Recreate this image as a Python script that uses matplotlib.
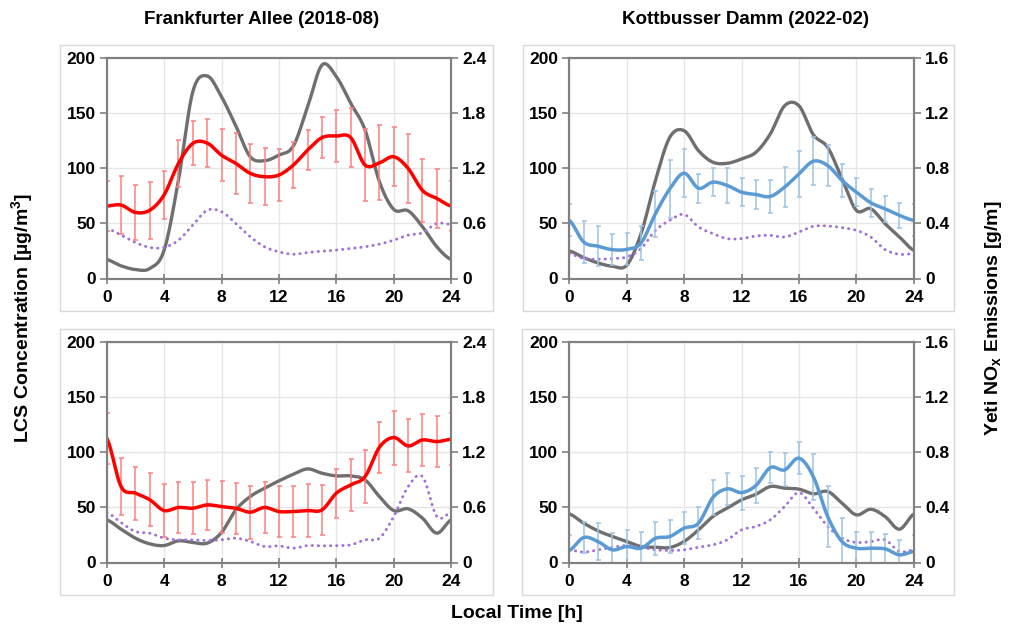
import numpy as np
import matplotlib
matplotlib.use("Agg")
import matplotlib.pyplot as plt
from matplotlib.patches import Rectangle

plt.rcParams['font.family'] = ['Liberation Sans', 'DejaVu Sans']
plt.rcParams['font.weight'] = 'bold'
plt.rcParams['mathtext.fontset'] = 'custom'
plt.rcParams['mathtext.bf'] = 'Liberation Sans:bold'
plt.rcParams['mathtext.rm'] = 'Liberation Sans:bold'
plt.rcParams['mathtext.default'] = 'bf'

hours = np.arange(0, 25)

# top-left: Frankfurter Allee
tl_lcs = [65.8, 66.7, 60, 62, 76, 104.5, 122.7, 123, 112, 104.5, 95.5, 92.4, 94,
          103, 116.7, 128, 129.4, 128, 103, 105, 110.6, 100, 80, 72.7, 65.8]
tl_err = [23, 26, 25, 26, 22, 21, 20, 22, 23.5, 28, 27, 26, 24,
          21, 18, 19, 23.5, 27, 33, 34, 27, 31, 28.5, 27, 23]
tl_yeti = [0.207, 0.138, 0.098, 0.109, 0.309, 1.073, 2.036, 2.207, 1.98, 1.662, 1.327, 1.284, 1.345,
           1.444, 1.873, 2.327, 2.2, 1.909, 1.618, 1.055, 0.753, 0.738, 0.564, 0.345, 0.207]
tl_dot = [45.5, 39.4, 32.7, 28.2, 28.2, 34.8, 48.5, 62, 60.6, 50, 37.9, 28.8, 24.2,
          22, 23.6, 24.8, 25.8, 27.3, 28.8, 31.2, 34.8, 39.4, 41.5, 50, 49]

# top-right: Kottbusser Damm
tr_lcs = [52.8, 33.2, 29.3, 26.2, 26.5, 32.3, 58.8, 81.4, 95.6, 82, 87.5, 84.5, 78.4,
          76.3, 74.5, 83, 95, 106.5, 102.6, 89, 78.4, 68.8, 63.3, 57.3, 52.8]
tr_err = [14.5, 19, 18, 14, 14.5, 15.5, 21, 26.5, 22, 13, 12.5, 16, 13,
          13, 15, 18, 21, 22, 18.5, 15.4, 12.7, 12.8, 12, 11, 14.5]
tr_yeti = [0.2, 0.152, 0.113, 0.089, 0.097, 0.326, 0.712, 1.026, 1.074, 0.929, 0.845, 0.837, 0.869,
           0.917, 1.05, 1.255, 1.255, 1.045, 0.953, 0.724, 0.495, 0.507, 0.398, 0.302, 0.205]
tr_dot = [22.6, 18.1, 17.5, 18.1, 19.6, 27.1, 43.7, 52.8, 58.2, 46.8, 40.7, 36.2, 36.2,
          38.6, 39.2, 37.7, 42.2, 47.4, 47.7, 46.2, 43.7, 37.7, 26.2, 22, 22.6]

# bottom-left: Frankfurter Allee
bl_lcs = [112.9, 69, 63, 57, 47.2, 50, 49.3, 52.3, 50.8, 49.3, 45.7, 50, 46.3,
          46.3, 47.2, 47.8, 63, 70.5, 78, 104.7, 113.5, 105.9, 111.3, 109.8, 112]
bl_err = [23, 26, 24, 24, 24, 23, 23.5, 23, 23.6, 23.3, 24, 23, 23.5,
          23.3, 24, 22.7, 22.3, 23.3, 24, 23.3, 24.5, 24, 23.7, 23.3, 23.5]
bl_yeti = [0.465, 0.363, 0.265, 0.203, 0.185, 0.236, 0.218, 0.211, 0.327, 0.574, 0.719, 0.81, 0.89,
           0.962, 1.02, 0.973, 0.944, 0.944, 0.9, 0.719, 0.566, 0.585, 0.483, 0.32, 0.465]
bl_dot = [45.4, 36.3, 28.1, 26.6, 22.1, 20.6, 20.6, 20, 20.6, 22.1, 19.1, 14.5, 15.1,
          13, 15.4, 15.1, 15.4, 16, 20.6, 22.1, 41.8, 69, 78, 41.8, 45.4]

# bottom-right: Kottbusser Damm
br_lcs = [10.9, 22.7, 19, 11.5, 14.5, 13, 22, 23.6, 31.2, 35.7, 59, 66.9, 63.5,
          69.9, 86.2, 84.1, 94.7, 78, 41.8, 19, 13, 13, 12.4, 7, 10]
br_err = [14, 14.5, 16.7, 15, 15, 15, 15, 15, 14.5, 14.3, 16, 14.8, 15.5,
          15.7, 14, 15, 14.5, 21, 28, 21, 14.5, 14.5, 13.6, 13.6, 15]
br_yeti = [0.353, 0.286, 0.23, 0.189, 0.153, 0.116, 0.111, 0.109, 0.153, 0.237, 0.334, 0.395, 0.455,
           0.496, 0.552, 0.54, 0.533, 0.499, 0.516, 0.431, 0.346, 0.387, 0.334, 0.242, 0.351]
br_dot = [11.5, 9.4, 11.5, 13.9, 15.4, 13.9, 11.5, 10.9, 11.5, 13.9, 16, 20.6, 29.7,
          32.7, 38.7, 50.8, 63.5, 49.3, 32.7, 22.1, 18.2, 19, 20.6, 10, 11.5]

titles = ['Frankfurter Allee (2018-08)', 'Kottbusser Damm (2022-02)']
right_max = [2.4, 1.6]

RED = '#ff0000'
RED_ERR = '#ff7f7f'
BLUE = '#5b9bd5'
BLUE_ERR = '#9dc3e6'
GRAY = '#6f6f6f'
PURPLE = '#a070d8'
AXC = '#808080'


def smooth(x, y, n=20):
    # catmull-rom, like excel's smoothed line
    x = np.asarray(x, float)
    y = np.asarray(y, float)
    px = np.concatenate([[2 * x[0] - x[1]], x, [2 * x[-1] - x[-2]]])
    py = np.concatenate([[y[0]], y, [y[-1]]])
    xs, ys = [], []
    t = np.linspace(0, 1, n, endpoint=False)
    for i in range(1, len(px) - 2):
        x0, x1, x2, x3 = px[i - 1:i + 3]
        y0, y1, y2, y3 = py[i - 1:i + 3]
        for a, b, c, d, out in ((x0, x1, x2, x3, xs), (y0, y1, y2, y3, ys)):
            out.append(0.5 * (2 * b + (-a + c) * t + (2 * a - 5 * b + 4 * c - d) * t ** 2
                              + (-a + 3 * b - 3 * c + d) * t ** 3))
    xs.append([x[-1]])
    ys.append([y[-1]])
    return np.concatenate(xs), np.concatenate(ys)


W, H = 1010, 629
fig = plt.figure(figsize=(W / 100, H / 100), dpi=100)

# chart-area frames (pixel coords)
for (x0, y0, x1, y1) in [(60, 45, 493, 311), (523, 45, 954, 311),
                         (60, 329, 493, 595), (522, 329, 954, 595)]:
    fig.patches.append(Rectangle((x0 / W, 1 - y1 / H), (x1 - x0) / W, (y1 - y0) / H,
                                 transform=fig.transFigure, fill=False,
                                 edgecolor='#d9d9d9', linewidth=1))

panels = [
    (0, 0, tl_lcs, tl_err, tl_yeti, tl_dot, RED, RED_ERR),
    (0, 1, tr_lcs, tr_err, tr_yeti, tr_dot, BLUE, BLUE_ERR),
    (1, 0, bl_lcs, bl_err, bl_yeti, bl_dot, RED, RED_ERR),
    (1, 1, br_lcs, br_err, br_yeti, br_dot, BLUE, BLUE_ERR),
]
lefts = [106.7, 569.3]
tops = [58.3, 342.3]

for row, col, lcs, err, yeti, dot, c, ec in panels:
    l = lefts[col] / W
    b = 1 - (tops[row] + 220.2) / H
    ax2 = fig.add_axes([l, b, 344.5 / W, 220.2 / H])
    ax = ax2.twinx()
    ax.yaxis.tick_left()
    ax2.yaxis.tick_right()
    ax.set_zorder(ax2.get_zorder() + 1)
    ax.patch.set_visible(False)

    sx, sy = smooth(hours, yeti)
    ax2.plot(sx, sy, color=GRAY, lw=2.4, solid_capstyle='round')
    ax2.set_ylim(0, right_max[col])
    ax2.set_yticks(np.linspace(0, right_max[col], 5))
    ax2.set_yticklabels(['0'] + ['%.1f' % v for v in np.linspace(0, right_max[col], 5)[1:]])
    ax2.grid(True, color='#e6e6e6', lw=1)
    ax2.set_axisbelow(True)

    sx, sy = smooth(hours, dot)
    ax.plot(sx, sy, color=PURPLE, lw=2.1, linestyle=(0, (0.1, 2.0)), dash_capstyle='round')
    ax.errorbar(hours, lcs, yerr=err, fmt='none', ecolor=ec, elinewidth=1.1, capsize=1.8, capthick=1.1)
    sx, sy = smooth(hours, lcs)
    ax.plot(sx, sy, color=c, lw=2.5)
    ax.set_ylim(0, 200)
    ax.set_yticks([0, 50, 100, 150, 200])

    ax2.set_xlim(0, 24)
    ax2.set_xticks(range(0, 25, 4))
    for a in (ax, ax2):
        for s in a.spines.values():
            s.set_color(AXC)
            s.set_linewidth(1.5)
        a.tick_params(labelsize=12.5, colors=AXC, labelcolor='black', width=1.2, length=5, pad=3)
    ax2.tick_params(axis='x', direction='inout', length=7, pad=5)

title_x = [262, 745]
for col in range(2):
    fig.text(title_x[col] / W, 1 - 20 / H, titles[col], ha='center', va='center',
             fontsize=13.5, fontweight='bold')

fig.text(22 / W, 1 - 318 / H, 'LCS Concentration [µg/m$^3$]', rotation=90,
         ha='center', va='center', fontsize=14, fontweight='bold')
fig.text(994 / W, 1 - 318 / H, 'Yeti NO$_x$ Emissions [g/m]', rotation=90,
         ha='center', va='center', fontsize=14, fontweight='bold')
fig.text(517 / W, 1 - 614 / H, 'Local Time [h]', ha='center', va='center',
         fontsize=14, fontweight='bold')

fig.savefig('out.png', dpi=100)
